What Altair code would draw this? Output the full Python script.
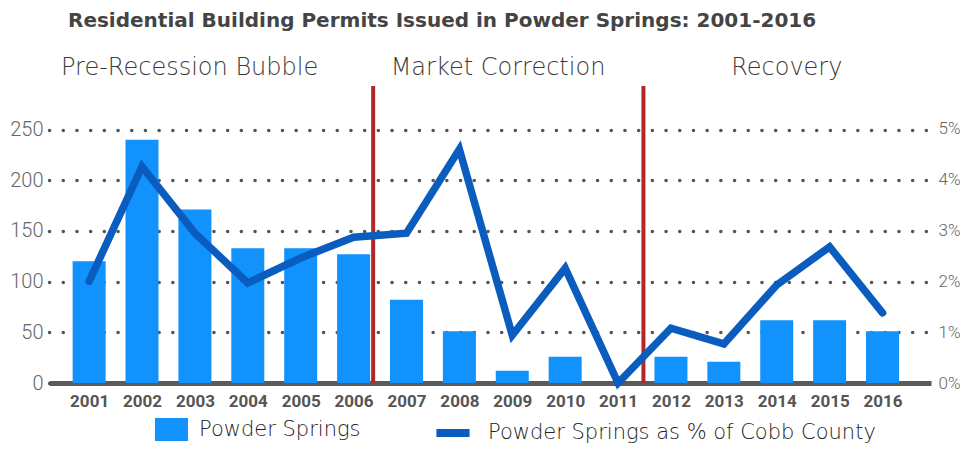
import altair as alt
import pandas as pd

years = list(range(2001, 2017))
permits = [120, 240, 171, 133, 133, 127, 82, 51, 12, 26, 0, 26, 21, 62, 62, 51]
share_pct = [2.0, 4.26, 2.95, 1.97, 2.46, 2.87, 2.95, 4.6, 0.94, 2.26, 0.0, 1.08, 0.77, 1.93, 2.68, 1.38]
periods = ["Pre-Recession Bubble", "Market Correction", "Recovery"]
period_pos = [2002.9, 2008.73, 2014.19]
dividers = [2006.37, 2011.48]
left_ticks = [0, 50, 100, 150, 200, 250]
right_ticks = [0, 0.01, 0.02, 0.03, 0.04, 0.05]

df = pd.DataFrame({"year": years, "permits": permits,
                   "share": [v / 100 for v in share_pct],
                   "s1": "Powder Springs",
                   "s2": "Powder Springs as % of Cobb County"})
pdf = pd.DataFrame({"label": periods, "x": period_pos})
ddf = pd.DataFrame({"x": dividers})

W, H = 882, 297
xdom = [2000.336, 2016.822]
xscale = alt.Scale(domain=xdom, nice=False, zero=False)
ylscale = alt.Scale(domain=[0, 292.9], nice=False, zero=True)
yrscale = alt.Scale(domain=[0, 0.05846], nice=False, zero=True)

num_font = "Roboto"
txt_font = "DejaVu Sans"

bars = alt.Chart(df).mark_bar(size=33).encode(
    x=alt.X("year:Q", scale=xscale,
            axis=alt.Axis(values=years, format="d", title=None, grid=False,
                          ticks=False, domain=True, domainColor="#5a5a5a", domainWidth=5,
                          labelFont="Roboto", labelFontWeight="bold",
                          labelFontSize=17, labelColor="#555555", labelPadding=10)),
    y=alt.Y("permits:Q", scale=ylscale,
            axis=alt.Axis(values=left_ticks, title=None, grid=True, gridDash=[0.1, 13.6],
                          gridCap="round", gridWidth=3.5, gridColor="#555555",
                          domain=False, ticks=False, labelFont=num_font, labelFontWeight=300,
                          labelFontSize=20, labelColor="#666666", labelPadding=6)),
    color=alt.Color("s1:N", scale=alt.Scale(range=["#1192fd"]),
                    legend=alt.Legend(title=None, orient="none", legendX=105, legendY=326,
                                      symbolType="M-1,-0.7H1V0.7H-1Z", symbolSize=1089,
                                      symbolOpacity=1, labelFont=txt_font, labelFontWeight=200,
                                      labelFontSize=21, labelColor="#222222", labelOffset=10,
                                      labelLimit=500, padding=0)),
)

rules = alt.Chart(ddf).mark_rule(color="#b22828", strokeWidth=4).encode(
    x=alt.X("x:Q", scale=xscale),
    y=alt.value(0), y2=alt.value(H),
)

texts = alt.Chart(pdf).mark_text(font=txt_font, fontWeight=200, fontSize=24,
                                 color="#3a3a3a", baseline="middle").encode(
    x=alt.X("x:Q", scale=xscale),
    y=alt.value(-18),
    text="label:N",
)

line = alt.Chart(df).mark_line(strokeWidth=7.5, strokeCap="round").encode(
    x=alt.X("year:Q", scale=xscale),
    y=alt.Y("share:Q", scale=yrscale,
            axis=alt.Axis(orient="right", values=right_ticks, format=".0%", title=None,
                          grid=False, domain=False, ticks=False, labelFont=num_font,
                          labelFontWeight=300, labelFontSize=17, labelColor="#666666",
                          labelPadding=7)),
    stroke=alt.Stroke("s2:N", scale=alt.Scale(range=["#0a5cbf"]),
                      legend=alt.Legend(title=None, orient="none", legendX=383, legendY=326,
                                        symbolType="stroke", symbolSize=1100,
                                        symbolStrokeWidth=8, labelFont=txt_font,
                                        labelFontWeight=200, labelFontSize=21,
                                        labelColor="#222222", labelOffset=14,
                                        labelLimit=600, padding=0)),
)

left = alt.layer(bars, rules, texts)
chart = alt.layer(left, line).resolve_scale(y="independent", color="independent").properties(
    width=W, height=H,
    autosize=alt.AutoSizeParams(type="none"),
    padding={"left": 41, "top": 78, "right": 32, "bottom": 62},
    title=alt.Title("Residential Building Permits Issued in Powder Springs: 2001-2016",
                    anchor="start", frame="group", font=txt_font, fontWeight="bold",
                    fontSize=20, color="#444444", dx=19, offset=25),
).configure_view(stroke=None)

chart.save("out.html", embed_options={"renderer": "svg", "actions": False})
